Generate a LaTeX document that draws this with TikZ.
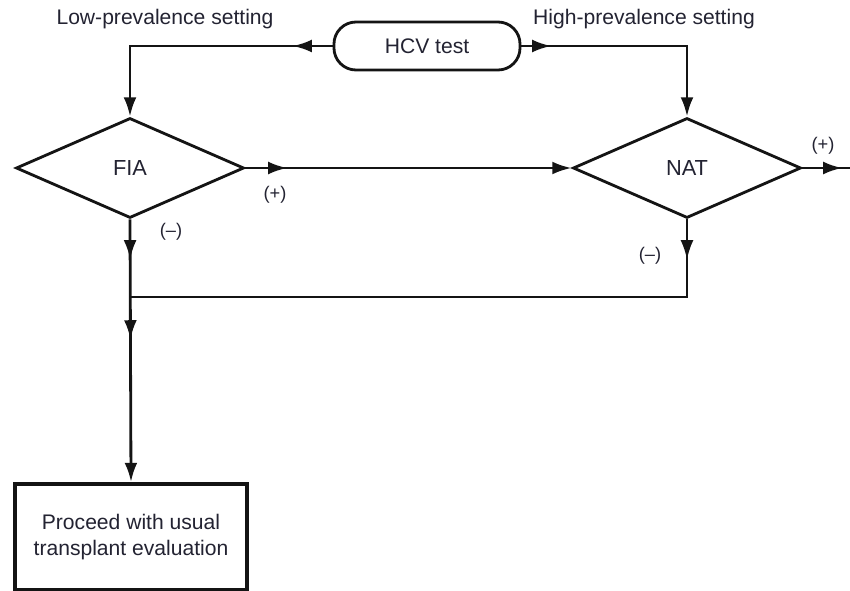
\documentclass[tikz,border=0pt]{standalone}
\usepackage{fontspec}
\setmainfont{Liberation Sans}
\usetikzlibrary{shapes.geometric, arrows.meta, decorations.markings, calc}
\definecolor{flowInk}{RGB}{20, 20, 20}
\definecolor{labelInk}{RGB}{35, 35, 50}
\tikzset{
  testbox/.style={
    rectangle, rounded corners=0.55cm,
    draw=flowInk, line width=2pt,
    fill=white, text=labelInk,
    minimum width=4.65cm, minimum height=1.2cm,
    font=\fontsize{15}{18}\selectfont, inner sep=0pt
  },
  decision/.style={
    diamond, draw=flowInk, line width=2pt,
    fill=white, text=labelInk,
    minimum width=5.7cm, minimum height=2.5cm,
    font=\fontsize{15.5}{18}\selectfont, inner sep=0pt
  },
  endbox/.style={
    rectangle, draw=flowInk, line width=2.8pt,
    fill=white, text=labelInk,
    minimum width=5.8cm, minimum height=2.65cm,
    align=center, font=\fontsize{15}{18}\selectfont
  },
  setting/.style={font=\fontsize{15}{18}\selectfont, text=labelInk, inner sep=0pt},
  sign/.style={font=\fontsize{13}{15}\selectfont, text=labelInk, inner sep=0pt},
  flow/.style={-{Latex[length=0.48cm, width=0.32cm]}, line width=2pt, draw=flowInk},
  link/.style={line width=2pt, draw=flowInk},
  midarrow/.style={postaction={decorate, decoration={markings,
    mark=at position #1 with {\arrow{Latex[length=0.48cm, width=0.32cm]}}}}}
}

\begin{document}
\begin{tikzpicture}[x=0.025cm, y=-0.025cm]
\useasboundingbox (0,0) rectangle (850,591);

%% NODES
\node[testbox] (hcv) at (427,46) {HCV test};
\node[decision] (fia) at (130,168) {FIA};
\node[decision] (nat) at (687,168) {NAT};
\node[endbox] (proceed) at (131,537) {Proceed with usual\\transplant evaluation};
\coordinate (join) at (130,297);
\coordinate (positive) at (852,168);

%% LABELS
\node[setting] (low) at (165,19) {Low-prevalence setting};
\node[setting] (high) at (644,19) {High-prevalence setting};
\node[sign] (fiapos) at (275,195) {(+)};
\node[sign] (fianeg) at (171,232) {(--)};
\node[sign] (natneg) at (650,256) {(--)};
\node[sign] (natpos) at (823,146) {(+)};

%% ARROWS
\draw[flow, midarrow=1cm] (hcv.west) -| (fia.north);
\draw[flow, midarrow=0.75cm] (hcv.east) -| (nat.north);
\draw[flow, midarrow=1.05cm] (fia.east) -- (nat.west);
\draw[link, midarrow=1cm] (nat.east) -- (positive);
\draw[flow, midarrow=1cm, midarrow=3cm] (fia.south) -- (proceed.north);

% NAT negative joins the FIA column
\draw[link, line width=1.5pt, midarrow=1cm] (nat.south) |- (join);

\end{tikzpicture}
\end{document}
